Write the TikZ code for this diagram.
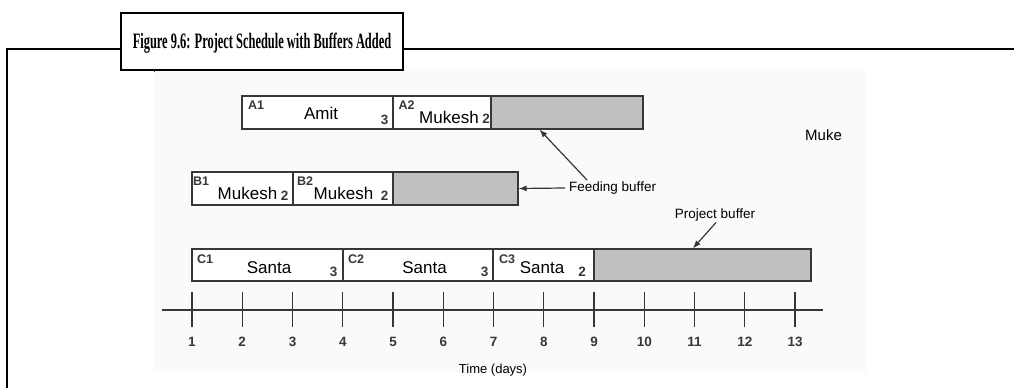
\documentclass[tikz,border=0pt]{standalone}
\usepackage{fontspec}
\setmainfont{Liberation Sans}
\newfontfamily\titlefont{Liberation Serif}
\usetikzlibrary{arrows.meta,calc}
\definecolor{buf}{RGB}{192,192,192}
\definecolor{edge}{RGB}{55,55,55}
\definecolor{bg}{RGB}{250,250,250}
\tikzset{
  frameline/.style={line width=2pt, draw=black},
  titlebox/.style={draw, line width=2pt, fill=white, minimum width=282pt, minimum height=57pt, inner sep=0pt},
  titletext/.style={inner sep=0pt, xscale=0.565, transform shape,
     font=\titlefont\bfseries\fontsize{22}{24}\selectfont},
  taskbar/.style={draw=edge, line width=1.1pt, fill=white, inner sep=0pt, minimum height=33pt, rectangle},
  bufbar/.style={taskbar, fill=buf},
  tag/.style={font=\fontsize{12.5}{12.5}\selectfont\bfseries, text=edge, inner sep=0pt},
  who/.style={font=\fontsize{17}{18}\selectfont, text=black, inner sep=0pt},
  dur/.style={font=\fontsize{13.5}{13.5}\selectfont\bfseries, text=edge, inner sep=0pt},
  ann/.style={font=\fontsize{13.5}{14}\selectfont, text=black, inner sep=1pt},
  pointer/.style={-{Latex[length=8pt,width=6pt]}, draw=edge, line width=1.2pt},
  tickmark/.style={draw=edge, line width=1.1pt},
  axisline/.style={draw=edge, line width=1.1pt},
  num/.style={font=\fontsize{13.5}{13.5}\selectfont\bfseries, text=edge, inner sep=0pt},
}
\begin{document}
\begin{tikzpicture}[x=1pt,y=-1pt]
\useasboundingbox (0,0) rectangle (1014,388);
% image background
\fill[bg] (153,71) rectangle (866,372);
\fill[edge] (153.5,70.5) rectangle (155,72);
% frame
\draw[frameline] (7,388) -- (7,49) -- (1014,49);
\node[titlebox] (title) at (262,41.5) {};
\node[titletext] (titlelabel) at ([yshift=-1.5pt]title.center) {Figure 9.6: Project Schedule with Buffers Added};

% Row A
\node[taskbar, minimum width=151pt] (a1) at (317.5,112.5) {};
\node[taskbar, minimum width=98pt] (a2) at (442,112.5) {};
\node[bufbar, minimum width=152pt] (abuf) at (567,112.5) {};
% Row B
\node[taskbar, minimum width=101pt] (b1) at (242.5,188.5) {};
\node[taskbar, minimum width=100pt] (b2) at (343,188.5) {};
\node[bufbar, minimum width=125pt] (bbuf) at (455.5,188.5) {};
% Row C
\node[taskbar, minimum width=151pt, minimum height=32pt] (c1) at (267.5,265) {};
\node[taskbar, minimum width=150pt, minimum height=32pt] (c2) at (418,265) {};
\node[taskbar, minimum width=101pt, minimum height=32pt] (c3) at (543.5,265) {};
\node[bufbar, minimum width=217pt, minimum height=32pt] (cbuf) at (702.5,265) {};

% tags
\node[tag] (ta1) at (256,105) {A1};
\node[tag] (ta2) at (406.5,105) {A2};
\node[tag] (tb1) at (201,181.5) {B1};
\node[tag] (tb2) at (305,181.5) {B2};
\node[tag] (tc1) at (205,259) {C1};
\node[tag] (tc2) at (356,259) {C2};
\node[tag] (tc3) at (507,259) {C3};
% resources
\node[who] (wa1) at (321,113) {Amit};
\node[who] (wa2) at (449,117) {Mukesh};
\node[who] (wb1) at (247.5,193) {Mukesh};
\node[who] (wb2) at (343.5,193) {Mukesh};
\node[who] (wc1) at (269,268) {Santa};
\node[who] (wc2) at (424.5,268) {Santa};
\node[who] (wc3) at (542,268) {Santa};
% durations
\node[dur] (da1) at (384.5,120) {3};
\node[dur] (da2) at (486,119) {2};
\node[dur] (db1) at (284.5,195.5) {2};
\node[dur] (db2) at (384.5,195.5) {2};
\node[dur] (dc1) at (333.5,272) {3};
\node[dur] (dc2) at (484.5,272) {3};
\node[dur] (dc3) at (582,272) {2};

% stray text
\node[font=\fontsize{15}{15}\selectfont, anchor=west, inner sep=0pt] (muke) at (805,135) {Muke};

% annotations
\node[ann, anchor=west, inner sep=0pt] (fb) at (569,188) {Feeding buffer};
\draw[pointer] ([xshift=-4pt]fb.west) -- (bbuf.east);
\draw[pointer] ([xshift=18pt,yshift=8pt]fb.west) -- ($(abuf.south west)!0.32!(abuf.south east)$);
\node[ann] (pb) at (715,215) {Project buffer};
\draw[pointer] ([xshift=1pt]pb.south) -- ($(cbuf.north west)!0.456!(cbuf.north east)$);

% time axis
\draw[axisline] (162,310) -- (823,310);
\foreach \t in {1,...,13} {
  \pgfmathsetmacro\xx{192+(\t-1)*50.25}
  \draw[tickmark] (\xx,292) -- (\xx,327);
  \node[num] (n\t) at (\xx,342) {\t};
}
\node[ann, font=\fontsize{13}{13}\selectfont] (tl) at (493,370) {Time (days)};
\end{tikzpicture}
\end{document}
